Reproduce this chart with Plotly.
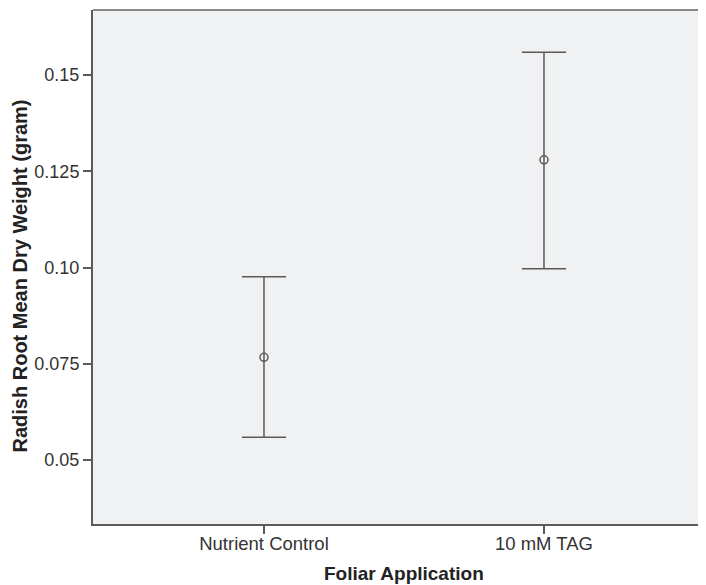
import plotly.graph_objects as go

categories = ["Nutrient Control", "10 mM TAG"]
means = [0.0767, 0.1280]
upper = [0.0976, 0.1559]
lower = [0.0559, 0.0997]
ytick_vals = [0.05, 0.075, 0.10, 0.125, 0.15]
ytick_text = ["0.05", "0.075", "0.10", "0.125", "0.15"]

line_col = "#5a5a5a"
font_fam = "Liberation Sans, Arial, sans-serif"

fig = go.Figure()
fig.add_trace(go.Scatter(
    x=[0, 1], y=means, mode="markers",
    marker=dict(symbol="circle-open", size=8, color=line_col, line=dict(width=1.5, color=line_col)),
    error_y=dict(type="data", symmetric=False,
                 array=[u - m for u, m in zip(upper, means)],
                 arrayminus=[m - l for m, l in zip(means, lower)],
                 color=line_col, thickness=1.5, width=22),
    showlegend=False, hoverinfo="skip",
))

fig.update_layout(
    width=698, height=577,
    margin=dict(l=85, r=0, t=2, b=61),
    paper_bgcolor="white", plot_bgcolor="#f0f1f3",
    font=dict(family=font_fam, size=18, color="#333333"),
    xaxis=dict(range=[-0.6107, 1.5786], tickvals=[0, 1], ticktext=categories,
               ticks="outside", ticklen=8, tickwidth=1.5, tickcolor=line_col,
               ticklabelstandoff=-6,
               showgrid=False, zeroline=False, showline=True, linecolor=line_col, linewidth=2,
               mirror=False, tickfont=dict(size=18.5, color="#333333")),
    yaxis=dict(range=[0.0334, 0.1669], tickvals=ytick_vals, ticktext=ytick_text,
               ticks="outside", ticklen=8, tickwidth=1.5, tickcolor=line_col,
               showgrid=False, zeroline=False, showline=True, linecolor=line_col, linewidth=2,
               tickfont=dict(size=18, color="#333333")),
    shapes=[dict(type="line", xref="paper", yref="paper", x0=0, x1=1, y0=1, y1=1,
                 line=dict(color="#888888", width=2))],
    annotations=[
        dict(text="<b>Foliar Application</b>", xref="paper", yref="paper",
             x=(404 - 93) / 613, y=-(573 - 524) / 514, xanchor="center", yanchor="middle",
             showarrow=False, font=dict(size=19, color="#222222")),
        dict(text="<b>Radish Root Mean Dry Weight (gram)</b>", xref="paper", yref="paper",
             x=-(93 - 19.5) / 613, y=(524 - 276) / 514, xanchor="center", yanchor="middle",
             textangle=-90, showarrow=False, font=dict(size=20, color="#222222")),
    ],
)

fig.write_html("out.html")
